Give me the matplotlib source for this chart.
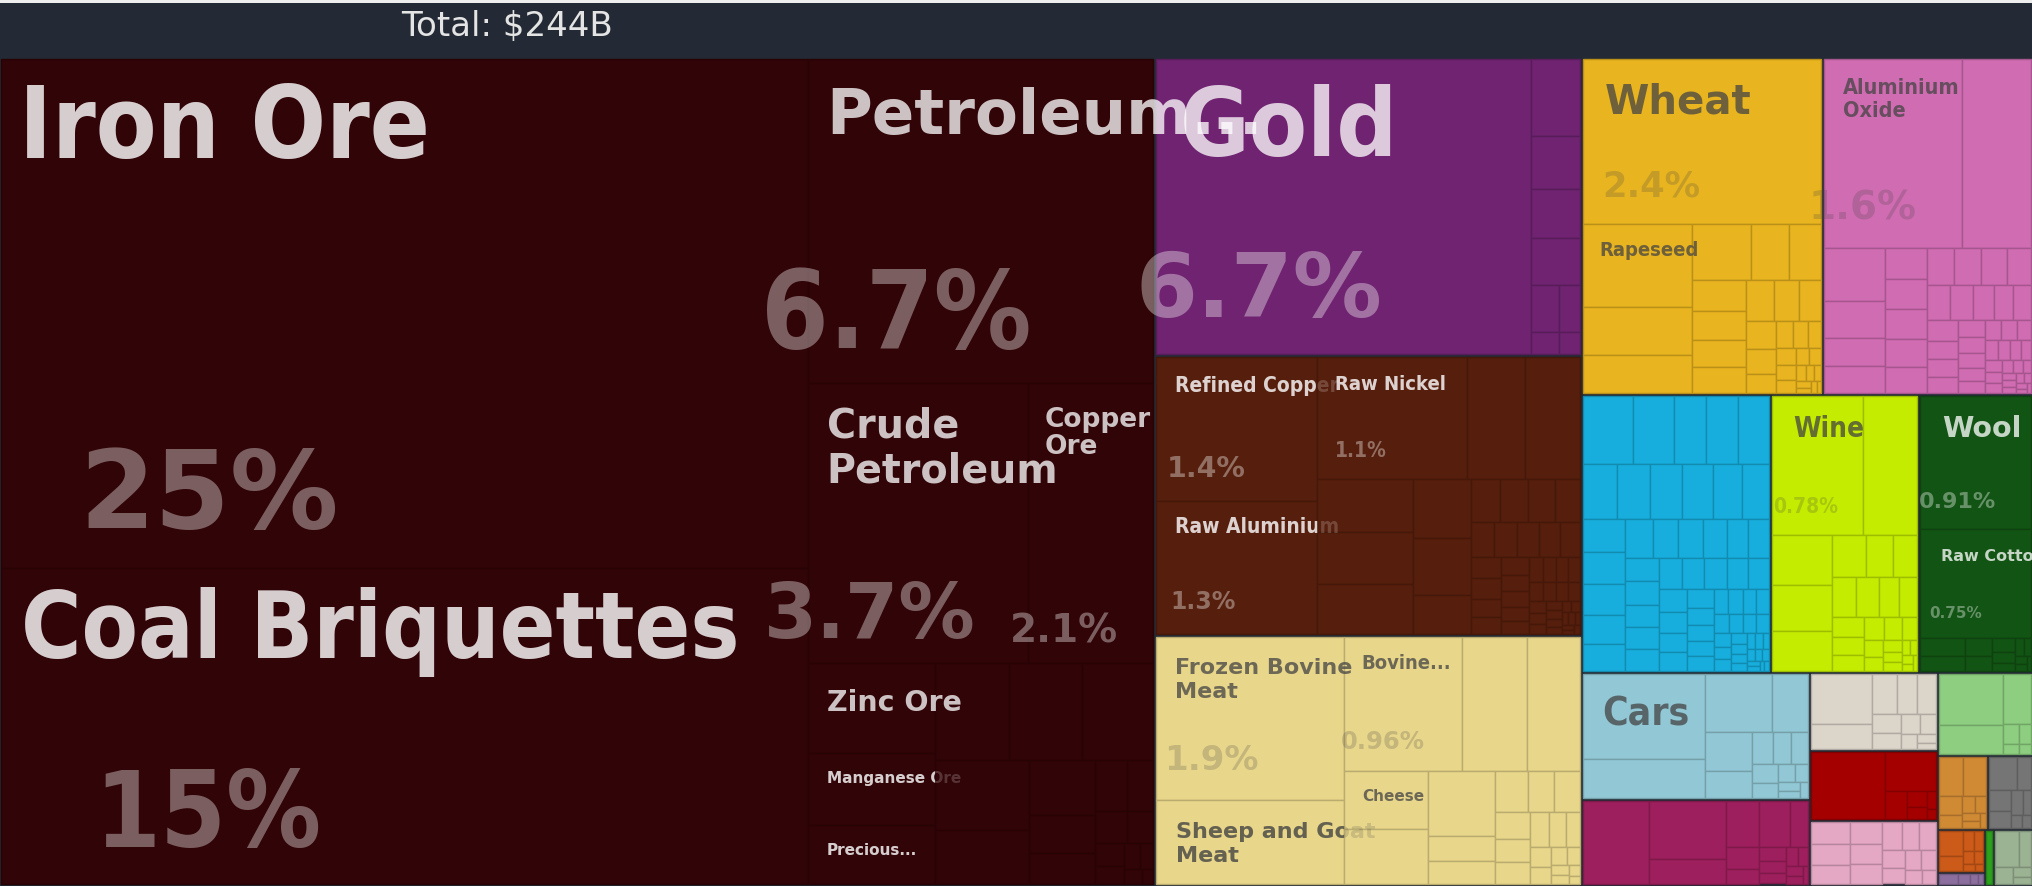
import matplotlib
matplotlib.use("Agg")
import matplotlib.pyplot as plt
import matplotlib.colors as mcolors
from matplotlib.patches import Rectangle

W, H = 2033, 886          # output size in pixels
PHI = (1 + 5 ** 0.5) / 2  # d3 squarify ratio

# ---------------- data: share of total exports (%) ----------------
total_text = "Total: $244B"

section_names = [
    "Mineral Products", "Precious Metals", "Metals", "Animal Products",
    "Vegetable Products", "Chemical Products", "Machines", "Foodstuffs",
    "Textiles", "Transportation", "Instruments", "Plastics and Rubbers",
    "Animal and Vegetable Bi-Products", "Miscellaneous", "Paper Goods",
    "Wood Products", "Stone and Glass", "Animal Hides",
    "Footwear and Headwear", "Weapons", "Arts and Antiques",
]

mineral_products = [24.6, 15.2, 6.7, 3.7, 2.1, 0.68, 0.55, 0.44, 0.43, 0.42, 0.41,
                    0.40, 0.30, 0.22, 0.15, 0.12, 0.10, 0.08, 0.06, 0.05, 0.04,
                    0.03, 0.025, 0.02, 0.015, 0.01]
precious_metals = [6.70, 0.228, 0.158, 0.143, 0.14, 0.08, 0.06, 0.037, 0.028]
metals = [1.4, 1.3, 1.1, 0.43, 0.40, 0.31, 0.30, 0.29, 0.204, 0.20, 0.135,
          0.076, 0.075, 0.07, 0.064, 0.05, 0.048, 0.046, 0.044, 0.042, 0.040,
          0.038, 0.034, 0.032, 0.030, 0.028, 0.026, 0.024, 0.022, 0.021, 0.020,
          0.018, 0.017, 0.016, 0.015, 0.014, 0.013, 0.012, 0.011, 0.010, 0.009,
          0.008, 0.008, 0.007, 0.006, 0.006, 0.005, 0.005, 0.004, 0.004, 0.003,
          0.003]
animal_products = [1.85, 0.95, 0.96, 0.52, 0.43, 0.297, 0.282, 0.264, 0.10, 0.093,
                   0.083, 0.067, 0.064, 0.056, 0.05, 0.045, 0.04, 0.035, 0.03,
                   0.025, 0.02, 0.017, 0.014, 0.011, 0.009, 0.007, 0.005]
vegetable_products = [2.4, 0.55, 0.32, 0.25, 0.20, 0.13, 0.11, 0.10, 0.095, 0.09,
                      0.085, 0.07, 0.06, 0.055, 0.05, 0.045, 0.035, 0.028, 0.025,
                      0.022, 0.02, 0.018, 0.016, 0.014, 0.012, 0.01, 0.008, 0.007,
                      0.006, 0.005, 0.004, 0.003]
chemical_products = [1.6, 0.80, 0.196, 0.137, 0.107, 0.10, 0.078, 0.078, 0.077,
                     0.07, 0.068, 0.06, 0.058, 0.058, 0.055, 0.05, 0.048, 0.045,
                     0.042, 0.04, 0.038, 0.035, 0.033, 0.03, 0.028, 0.026, 0.024,
                     0.022, 0.02, 0.019, 0.018, 0.017, 0.016, 0.015, 0.014, 0.013,
                     0.012, 0.011, 0.01, 0.009, 0.008, 0.007, 0.006, 0.006, 0.005,
                     0.005, 0.004, 0.004, 0.003, 0.003]
machines = [0.21, 0.17, 0.135, 0.132, 0.13, 0.117, 0.11, 0.106, 0.104, 0.10, 0.09,
            0.085, 0.083, 0.08, 0.075, 0.07, 0.065, 0.06, 0.058, 0.055, 0.05, 0.05,
            0.048, 0.048, 0.046, 0.046, 0.044, 0.044, 0.044, 0.043, 0.042, 0.04,
            0.038, 0.036, 0.034, 0.032, 0.03, 0.028, 0.026, 0.025, 0.024, 0.022,
            0.021, 0.02, 0.019, 0.018, 0.017, 0.016, 0.015, 0.014, 0.013, 0.012,
            0.011, 0.01, 0.009, 0.008, 0.008, 0.007, 0.006, 0.006, 0.005, 0.005,
            0.004, 0.004, 0.003, 0.003]
foodstuffs = [0.78, 0.46, 0.184, 0.169, 0.146, 0.087, 0.067, 0.062, 0.06, 0.055,
              0.05, 0.045, 0.04, 0.036, 0.032, 0.028, 0.025, 0.022, 0.019, 0.016,
              0.014, 0.012, 0.01, 0.008, 0.007, 0.006, 0.005, 0.004]
textiles = [0.91, 0.75, 0.05, 0.04, 0.03, 0.025, 0.02, 0.015, 0.012, 0.01, 0.008,
            0.006, 0.005, 0.004]
transportation = [0.64, 0.30, 0.242, 0.13, 0.11, 0.08, 0.04, 0.035, 0.033, 0.03,
                  0.025, 0.02, 0.015, 0.012, 0.01, 0.008]
instruments = [0.34, 0.277, 0.12, 0.093, 0.088, 0.05, 0.045, 0.03, 0.025, 0.02,
               0.018, 0.015, 0.012, 0.01, 0.008, 0.006]
plastics = [0.193, 0.095, 0.065, 0.05, 0.048, 0.035, 0.03, 0.025, 0.02, 0.015,
            0.01, 0.008]
bi_products = [0.313, 0.128, 0.038, 0.02, 0.015, 0.01, 0.006]
miscellaneous = [0.056, 0.05, 0.047, 0.045, 0.042, 0.04, 0.036, 0.032, 0.03,
                 0.026, 0.022, 0.02, 0.018, 0.015, 0.012]
paper_goods = [0.21, 0.12, 0.09, 0.02, 0.015, 0.01, 0.008]
wood_products = [0.062, 0.058, 0.03, 0.02, 0.015, 0.012, 0.01, 0.008, 0.006]
stone_glass = [0.06, 0.032, 0.03, 0.025, 0.02, 0.015, 0.01, 0.008]
animal_hides = [0.04, 0.025, 0.015, 0.012, 0.01, 0.008, 0.006, 0.004]
footwear = [0.015, 0.01, 0.006, 0.004]
weapons = [0.03]
arts = [0.06, 0.03, 0.02, 0.012, 0.008]

section_values = [mineral_products, precious_metals, metals, animal_products,
                  vegetable_products, chemical_products, machines, foodstuffs,
                  textiles, transportation, instruments, plastics, bi_products,
                  miscellaneous, paper_goods, wood_products, stone_glass,
                  animal_hides, footwear, weapons, arts]

# labelled products: (section, position in section, name, share shown)
product_labels = [
    ("Mineral Products", 0, "Iron Ore", "25%"),
    ("Mineral Products", 1, "Coal Briquettes", "15%"),
    ("Mineral Products", 2, "Petroleum...", "6.7%"),
    ("Mineral Products", 3, "Crude\nPetroleum", "3.7%"),
    ("Mineral Products", 4, "Copper\nOre", "2.1%"),
    ("Mineral Products", 5, "Zinc Ore", None),
    ("Mineral Products", 6, "Manganese Ore", None),
    ("Mineral Products", 7, "Precious...", None),
    ("Precious Metals", 0, "Gold", "6.7%"),
    ("Metals", 0, "Refined Copper", "1.4%"),
    ("Metals", 1, "Raw Aluminium", "1.3%"),
    ("Metals", 2, "Raw Nickel", "1.1%"),
    ("Animal Products", 0, "Frozen Bovine\nMeat", "1.9%"),
    ("Animal Products", 1, "Sheep and Goat\nMeat", None),
    ("Animal Products", 2, "Bovine...", "0.96%"),
    ("Animal Products", 5, "Cheese", None),
    ("Vegetable Products", 0, "Wheat", "2.4%"),
    ("Vegetable Products", 1, "Rapeseed", None),
    ("Chemical Products", 0, "Aluminium\nOxide", "1.6%"),
    ("Foodstuffs", 0, "Wine", "0.78%"),
    ("Textiles", 0, "Wool", "0.91%"),
    ("Textiles", 1, "Raw Cotton", "0.75%"),
    ("Transportation", 0, "Cars", None),
]

# ---------------- styles ----------------
section_colors = ["#310407", "#6F2370", "#561E0C", "#E8D68B", "#E8B41F", "#D06CB2",
                  "#17AEDD", "#C4EC00", "#125413", "#92C8D5", "#9E1F5D", "#DCD5CA",
                  "#A40000", "#E5A8C4", "#8DCE80", "#D08A34", "#757575", "#CC5A18",
                  "#8D6F9F", "#2CA11D", "#9CB393"]
light_text = {"Mineral Products", "Precious Metals", "Metals", "Textiles", "Instruments"}
STRETCH = {"c": "condensed", "n": "normal"}

# name: (size pt, stretch, dx, dy, line step,
#        share size, share stretch, share dx, share dy, fade overflow)
label_style = {
    "Iron Ore": (71, "c", 18, 99, 0, 78, "n", 78, 470, True),
    "Coal Briquettes": (66, "c", 20, 90, 0, 76, "c", 93, 279, True),
    "Petroleum...": (45, "n", 18, 75, 0, 78, "c", -47, 289, False),
    "Crude\nPetroleum": (28.5, "n", 19, 55, 45, 55, "n", -44, 255, False),
    "Copper\nOre": (19, "n", 16, 44, 27, 28, "n", -18, 260, False),
    "Zinc Ore": (20.5, "n", 19, 48, 0, 0, "n", 0, 0, False),
    "Manganese Ore": (11, "n", 19, 30, 0, 0, "n", 0, 0, True),
    "Precious...": (11, "n", 19, 30, 0, 0, "n", 0, 0, True),
    "Gold": (68, "c", 23, 97, 0, 64, "n", -21, 259, False),
    "Refined Copper": (15, "c", 19, 35, 0, 20.5, "n", 10, 120, True),
    "Raw Aluminium": (15, "c", 19, 32, 0, 17, "n", 14, 108, True),
    "Raw Nickel": (14.5, "c", 18, 33, 0, 15, "c", 18, 100, True),
    "Frozen Bovine\nMeat": (16, "n", 19, 37, 24, 24.5, "n", 8, 133, False),
    "Sheep and Goat\nMeat": (16, "n", 20, 38, 24, 0, "n", 0, 0, True),
    "Bovine...": (14.5, "c", 18, 32, 0, 17.5, "n", -3, 112, False),
    "Cheese": (11, "n", 19, 30, 0, 0, "n", 0, 0, False),
    "Wheat": (29, "n", 22, 55, 0, 25.5, "n", 20, 138, False),
    "Rapeseed": (14.5, "c", 17, 32, 0, 0, "n", 0, 0, False),
    "Aluminium\nOxide": (15.5, "c", 19, 35, 23, 28, "n", -15, 161, False),
    "Wine": (20, "c", 21, 41, 0, 15, "c", 1, 117, False),
    "Wool": (20.5, "n", 22, 41, 0, 16, "n", -1, 112, False),
    "Raw Cotton": (11.5, "n", 21, 32, 0, 11, "n", 9, 89, False),
    "Cars": (28, "c", 20, 52, 0, 0, "n", 0, 0, False),
}


def squarify(values, x0, y0, x1, y1):
    """d3.treemapSquarify on a list of values kept in the given order."""
    out = []
    value = float(sum(values))
    n = len(values)
    i0 = 0
    while i0 < n:
        dx, dy = x1 - x0, y1 - y0
        i1 = i0 + 1
        s = values[i0]
        lo = hi = s
        alpha = max(dy / dx, dx / dy) / (value * PHI)
        beta = s * s * alpha
        best = max(hi / beta, beta / lo)
        while i1 < n:
            v = values[i1]
            s2 = s + v
            lo2, hi2 = min(lo, v), max(hi, v)
            beta = s2 * s2 * alpha
            r = max(hi2 / beta, beta / lo2)
            if r > best:
                break
            s, lo, hi, best = s2, lo2, hi2, r
            i1 += 1
        row = values[i0:i1]
        if dx < dy:
            yb = y1 if i1 == n else y0 + dy * s / value
            cx = x0
            for v in row:
                w = dx * v / s
                out.append((cx, y0, cx + w, yb))
                cx += w
            y0 = yb
        else:
            xb = x1 if i1 == n else x0 + dx * s / value
            cy = y0
            for v in row:
                h = dy * v / s
                out.append((x0, cy, xb, cy + h))
                cy += h
            x0 = xb
        value -= s
        i0 = i1
    return out


def shade(c, f=0.8):
    r, g, b = mcolors.to_rgb(c)
    return (r * f, g * f, b * f)


fig = plt.figure(figsize=(W / 100, H / 100), dpi=100)
fig.patch.set_facecolor("#232a35")
ax = fig.add_axes([0, 0, 1, 1])
ax.set_xlim(0, W)
ax.set_ylim(H, 0)
ax.axis("off")

# header bar
ax.add_patch(Rectangle((0, 0), W, 3, color="#eeeeee", lw=0))
ax.text(507, 36, total_text, fontsize=24.5, color="#e4e4e4", ha="center", va="baseline")

# layout: sections first, then products inside each section
pad = 1.5
sec_rects = squarify([sum(v) for v in section_values], 0, 57, W, 885)
leaf_rects = []
for vals, rect, col in zip(section_values, sec_rects, section_colors):
    x0, y0, x1, y1 = rect
    leaves = squarify(vals, x0 + pad, y0 + pad, x1 - pad, y1 - pad)
    leaf_rects.append(leaves)
    for a, b, c, d in leaves:
        ax.add_patch(Rectangle((a, b), c - a, d - b, facecolor=col,
                               edgecolor=shade(col), lw=1.0))

# labels
for sec, idx, name, share in product_labels:
    si = section_names.index(sec)
    x0, y0, x1, y1 = leaf_rects[si][idx]
    size, st, dx, dy, step, ssize, sst, sdx, sdy, fade = label_style[name]
    light = sec in light_text
    col = "white" if light else "#444444"
    a_lab = 0.76 if light else 0.75
    a_sh = 0.36 if light else 0.22
    kw = dict(fontweight="bold", color=col, ha="left", va="baseline")
    for k, line in enumerate(name.split("\n")):
        tx, ty = x0 + dx, y0 + dy + k * step
        if fade:
            t = ax.text(tx, ty, line, fontsize=size, fontstretch=STRETCH[st],
                        alpha=a_lab, clip_on=True, **kw)
            t.set_clip_path(Rectangle((x0, y0), x1 - x0, y1 - y0, transform=ax.transData))
            ax.text(tx, ty, line, fontsize=size, fontstretch=STRETCH[st],
                    alpha=a_lab * 0.25, **kw)
        else:
            ax.text(tx, ty, line, fontsize=size, fontstretch=STRETCH[st],
                    alpha=a_lab, **kw)
    if share:
        ax.text(x0 + sdx, y0 + sdy, share, fontsize=ssize, fontstretch=STRETCH[sst],
                alpha=a_sh, **kw)

fig.savefig("out.png", dpi=100, facecolor=fig.get_facecolor())
